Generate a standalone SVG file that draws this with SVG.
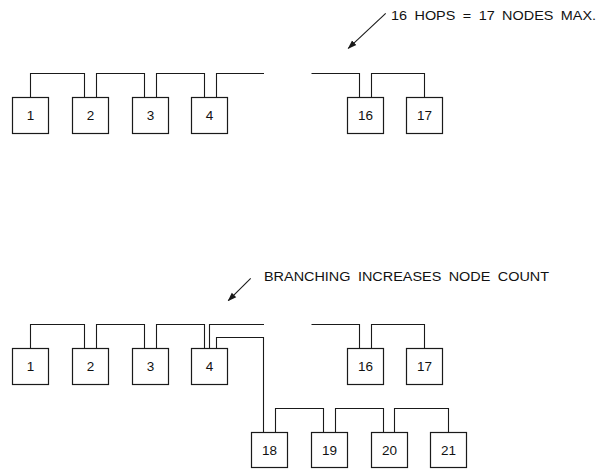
<svg xmlns="http://www.w3.org/2000/svg" width="598" height="469" viewBox="0 0 598 469">
<style>
.box{fill:#fff;stroke:#1a1a1a;stroke-width:1.2}
.num{font-family:"Liberation Sans",Arial,sans-serif;font-size:13.5px;fill:#111;text-anchor:middle}
.lbl{font-family:"Liberation Sans",Arial,sans-serif;font-size:13px;fill:#111;word-spacing:3.1px}
.wire{fill:none;stroke:#1a1a1a;stroke-width:1.1}
.arrow{fill:none;stroke:#1a1a1a;stroke-width:1.1;marker-end:url(#ah)}
</style>
<defs>
<marker id="ah" viewBox="0 0 10 10" refX="9" refY="5" markerWidth="9" markerHeight="9" markerUnits="userSpaceOnUse" orient="auto">
<path d="M0,1.5 L10,5 L0,8.5 Z" fill="#1a1a1a"/>
</marker>
</defs>
<rect width="598" height="469" fill="#fff"/>
<g id="connectors">
<path class="wire" d="M30.5,97.5 V73.5 H84.5 V97.5"/>
<path class="wire" d="M96.5,97.5 V73.5 H144.5 V97.5"/>
<path class="wire" d="M156.5,97.5 V73.5 H204.5 V97.5"/>
<path class="wire" d="M216.5,97.5 V73.5 H264"/>
<path class="wire" d="M311.5,73.5 H359.5 V97.5"/>
<path class="wire" d="M371.5,97.5 V73.5 H424.5 V97.5"/>
<path class="wire" d="M30.5,348.5 V324.5 H84.5 V348.5"/>
<path class="wire" d="M96.5,348.5 V324.5 H144.5 V348.5"/>
<path class="wire" d="M156.5,348.5 V324.5 H204.5 V348.5"/>
<path class="wire" d="M209.5,348.5 V324.5 H264"/>
<path class="wire" d="M216.5,348.5 V337.5 H263.5 V432.5"/>
<path class="wire" d="M311.5,324.5 H359.5 V348.5"/>
<path class="wire" d="M371.5,348.5 V324.5 H424.5 V348.5"/>
<path class="wire" d="M275.5,432.5 V408.5 H323.5 V432.5"/>
<path class="wire" d="M335.5,432.5 V408.5 H383.5 V432.5"/>
<path class="wire" d="M394.5,432.5 V408.5 H448.5 V432.5"/>
<path class="arrow" d="M385.7,13.3 L348.3,48.3"/>
<path class="arrow" d="M250.7,278.3 L228.3,300.7"/>
</g>
<g id="label-top"><text class="lbl" transform="translate(391,19.5) scale(1.11,1)">16 HOPS = 17 NODES MAX.</text></g>
<g id="label-bottom"><text class="lbl" transform="translate(264,281.3) scale(1.11,1)">BRANCHING INCREASES NODE COUNT</text></g>
<g id="t1"><rect class="box" x="12.5" y="97.5" width="36" height="36"/><text class="num" x="30.5" y="120.3">1</text></g>
<g id="t2"><rect class="box" x="72.5" y="97.5" width="36" height="36"/><text class="num" x="90.5" y="120.3">2</text></g>
<g id="t3"><rect class="box" x="132.5" y="97.5" width="36" height="36"/><text class="num" x="150.5" y="120.3">3</text></g>
<g id="t4"><rect class="box" x="191.5" y="97.5" width="36" height="36"/><text class="num" x="209.5" y="120.3">4</text></g>
<g id="t16"><rect class="box" x="347.5" y="97.5" width="36" height="36"/><text class="num" x="365.5" y="120.3">16</text></g>
<g id="t17"><rect class="box" x="406.5" y="97.5" width="36" height="36"/><text class="num" x="424.5" y="120.3">17</text></g>
<g id="b1"><rect class="box" x="12.5" y="348.5" width="36" height="36"/><text class="num" x="30.5" y="371.3">1</text></g>
<g id="b2"><rect class="box" x="72.5" y="348.5" width="36" height="36"/><text class="num" x="90.5" y="371.3">2</text></g>
<g id="b3"><rect class="box" x="132.5" y="348.5" width="36" height="36"/><text class="num" x="150.5" y="371.3">3</text></g>
<g id="b4"><rect class="box" x="191.5" y="348.5" width="36" height="36"/><text class="num" x="209.5" y="371.3">4</text></g>
<g id="b16"><rect class="box" x="347.5" y="348.5" width="36" height="36"/><text class="num" x="365.5" y="371.3">16</text></g>
<g id="b17"><rect class="box" x="406.5" y="348.5" width="36" height="36"/><text class="num" x="424.5" y="371.3">17</text></g>
<g id="b18"><rect class="box" x="251.5" y="432.5" width="36" height="35"/><text class="num" x="269.5" y="454.8">18</text></g>
<g id="b19"><rect class="box" x="311.5" y="432.5" width="36" height="35"/><text class="num" x="329.5" y="454.8">19</text></g>
<g id="b20"><rect class="box" x="371.5" y="432.5" width="36" height="35"/><text class="num" x="389.5" y="454.8">20</text></g>
<g id="b21"><rect class="box" x="430.5" y="432.5" width="36" height="35"/><text class="num" x="448.5" y="454.8">21</text></g>
</svg>
